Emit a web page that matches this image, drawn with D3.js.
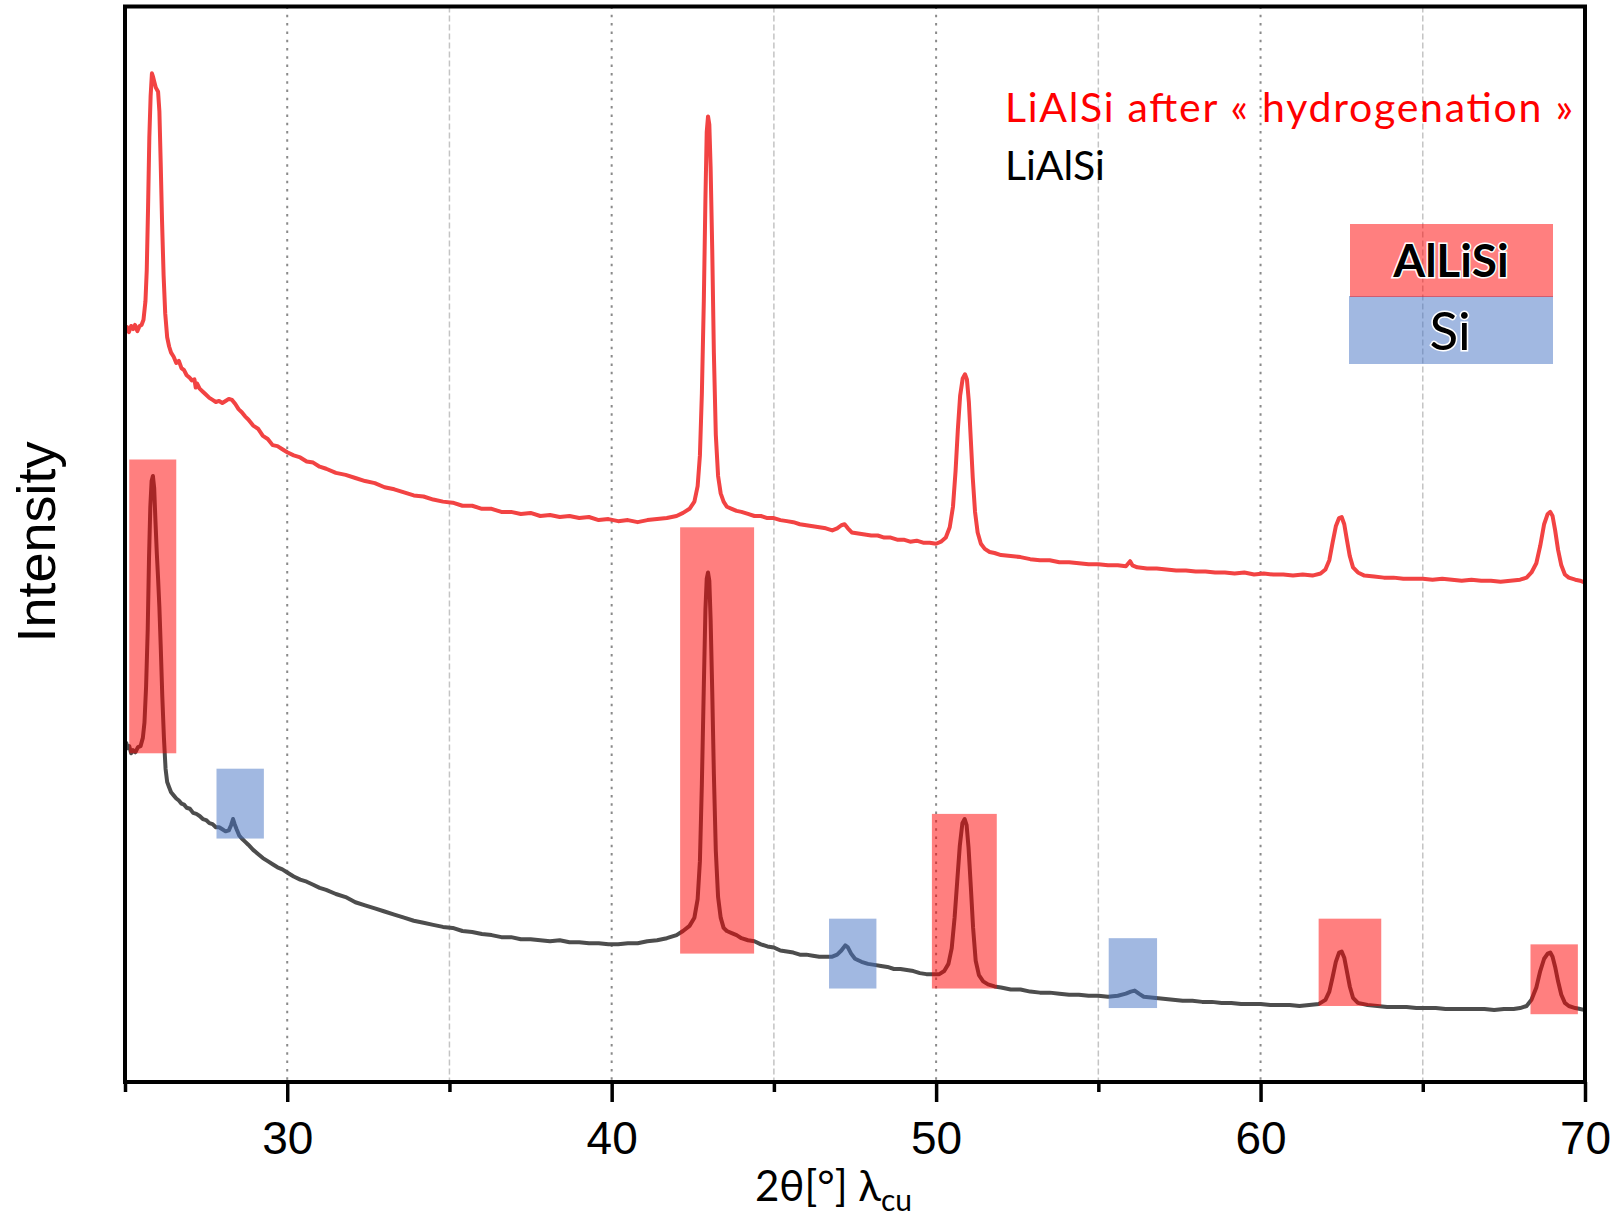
<!DOCTYPE html>
<html><head><meta charset="utf-8">
<script src="https://cdn.jsdelivr.net/npm/d3@7"></script>
<style>body{margin:0;background:#fff}</style>
</head><body><svg id="c" width="1611" height="1221"></svg>
<script>
const majorTicks = [30, 40, 50, 60, 70];
const minorTicks = [25, 35, 45, 55, 65];
const seriesLabels = ["LiAlSi after « hydrogenation »", "LiAlSi"];
const legendPhases = ["AlLiSi", "Si"];

// LiAlSi after hydrogenation: [2θ, intensity (a.u.)]
const afterH = [[25.00,732],[25.06,735],[25.12,730],[25.19,736],[25.25,733],[25.31,737],[25.38,731],[25.45,736],[25.51,737],[25.57,742],[25.63,760],[25.67,790],[25.71,850],[25.75,920],[25.79,960],[25.83,982],[25.86,979],[25.90,974],[25.95,968],[26.02,964],[26.06,945],[26.10,895],[26.14,840],[26.19,785],[26.24,748],[26.30,725],[26.36,716],[26.42,710],[26.50,706],[26.58,700],[26.66,702],[26.74,695],[26.82,693],[26.90,688],[26.98,686],[27.06,683],[27.14,684],[27.18,676],[27.22,680],[27.30,675],[27.40,672],[27.50,669],[27.60,666],[27.70,664],[27.80,662],[27.90,663],[28.00,661],[28.10,663],[28.20,665],[28.30,664],[28.40,660],[28.50,655],[28.60,652],[28.70,648],[28.80,645],[28.95,639],[29.10,636],[29.25,629],[29.40,626],[29.55,620],[29.70,619],[29.85,616],[30.0,613],[30.2,610],[30.4,608],[30.6,604],[30.8,603],[31.0,599],[31.2,597],[31.5,593],[31.8,591],[32.1,588],[32.4,585],[32.7,583],[33.0,579],[33.3,577],[33.6,574],[33.9,571],[34.2,570],[34.5,567],[34.8,565],[35.1,564],[35.4,561],[35.7,561],[36.0,558],[36.3,558],[36.6,555],[36.9,555],[37.2,553],[37.5,554],[37.8,551],[38.1,552],[38.4,550],[38.7,551],[39.0,549],[39.3,550],[39.6,547],[39.9,548],[40.2,546],[40.5,547],[40.8,545],[41.1,547],[41.4,548],[41.7,549],[42.0,551],[42.2,554],[42.4,558],[42.55,565],[42.65,580],[42.72,610],[42.78,670],[42.84,760],[42.89,860],[42.93,925],[42.97,940],[43.01,932],[43.05,890],[43.10,810],[43.15,710],[43.21,630],[43.28,590],[43.36,573],[43.45,565],[43.55,560],[43.7,558],[43.85,556],[44.0,555],[44.2,553],[44.4,551],[44.6,551],[44.8,549],[45.0,549],[45.2,547],[45.4,546],[45.6,545],[45.8,543],[46.0,542],[46.2,541],[46.4,540],[46.6,539],[46.8,537],[46.95,539],[47.08,542],[47.18,543],[47.28,539],[47.40,535],[47.6,534],[47.8,533],[48.0,532],[48.2,532],[48.4,530],[48.6,530],[48.8,528],[49.0,528],[49.2,526],[49.4,527],[49.6,525],[49.8,525],[50.0,524],[50.15,526],[50.3,530],[50.42,540],[50.52,560],[50.60,595],[50.67,635],[50.74,668],[50.82,685],[50.89,689],[50.95,684],[51.01,662],[51.07,625],[51.13,588],[51.20,555],[51.28,535],[51.38,524],[51.5,519],[51.65,516],[51.8,515],[52.0,513],[52.3,512],[52.6,511],[52.9,509],[53.2,508],[53.5,508],[53.8,506],[54.1,506],[54.4,505],[54.7,504],[55.0,504],[55.3,503],[55.6,503],[55.85,502],[55.98,507],[56.05,503],[56.2,501],[56.5,500],[56.8,500],[57.1,499],[57.4,498],[57.7,498],[58.0,497],[58.3,497],[58.6,496],[58.9,496],[59.2,495],[59.5,496],[59.8,494],[60.1,495],[60.4,494],[60.7,494],[61.0,493],[61.3,494],[61.6,493],[61.85,495],[62.0,499],[62.12,508],[62.22,525],[62.32,541],[62.42,549],[62.50,550],[62.58,543],[62.66,528],[62.75,512],[62.85,501],[63.0,496],[63.2,493],[63.5,492],[63.8,491],[64.1,491],[64.4,490],[64.7,490],[65.0,490],[65.3,489],[65.6,490],[65.9,489],[66.2,488],[66.5,489],[66.8,488],[67.1,488],[67.4,487],[67.7,488],[68.0,489],[68.2,491],[68.35,496],[68.5,505],[68.62,522],[68.74,543],[68.85,553],[68.93,555],[69.0,551],[69.08,537],[69.17,518],[69.27,503],[69.38,494],[69.5,491],[69.7,489],[69.85,488],[70.0,486]];

// LiAlSi (pristine): [2θ, intensity (a.u.)]
const pristine = [[25.00,322],[25.04,330],[25.08,325],[25.13,327],[25.19,320],[25.25,323],[25.32,321],[25.40,326],[25.48,327],[25.55,335],[25.60,350],[25.65,385],[25.70,440],[25.74,510],[25.78,560],[25.82,585],[25.86,590],[25.90,578],[25.94,545],[25.98,515],[26.02,490],[26.06,462],[26.10,425],[26.15,375],[26.20,335],[26.25,305],[26.30,292],[26.36,287],[26.42,282],[26.50,279],[26.58,276],[26.66,274],[26.74,271],[26.82,270],[26.90,267],[27.0,266],[27.1,262],[27.2,261],[27.3,259],[27.4,256],[27.5,255],[27.6,252],[27.7,251],[27.8,248],[27.9,248],[28.0,246],[28.1,244],[28.2,245],[28.27,250],[28.33,256],[28.38,251],[28.44,246],[28.52,240],[28.6,237],[28.7,234],[28.8,231],[28.95,226],[29.1,222],[29.25,218],[29.4,215],[29.55,212],[29.7,209],[29.85,207],[30.0,204],[30.2,200],[30.4,197],[30.6,195],[30.8,192],[31.0,189],[31.2,187],[31.5,183],[31.8,180],[32.1,175],[32.4,172],[32.7,169],[33.0,166],[33.3,163],[33.6,160],[33.9,157],[34.2,155],[34.5,153],[34.8,151],[35.1,150],[35.4,147],[35.7,146],[36.0,144],[36.3,143],[36.6,141],[36.9,141],[37.2,139],[37.5,139],[37.8,138],[38.1,137],[38.4,138],[38.7,136],[39.0,136],[39.3,135],[39.6,135],[39.9,134],[40.2,134],[40.5,135],[40.8,135],[41.1,137],[41.4,138],[41.7,140],[42.0,143],[42.2,147],[42.4,152],[42.55,160],[42.65,178],[42.72,215],[42.78,290],[42.84,385],[42.89,460],[42.93,490],[42.97,496],[43.01,488],[43.05,450],[43.10,380],[43.15,300],[43.21,225],[43.28,180],[43.36,160],[43.45,150],[43.55,147],[43.7,145],[43.85,143],[44.0,140],[44.2,138],[44.4,137],[44.6,134],[44.8,132],[45.0,131],[45.2,128],[45.4,127],[45.6,126],[45.8,124],[46.0,124],[46.2,123],[46.4,122],[46.6,122],[46.8,122],[46.95,124],[47.08,128],[47.2,133],[47.28,131],[47.38,125],[47.5,120],[47.7,117],[47.9,115],[48.1,114],[48.3,113],[48.5,112],[48.7,110],[48.9,110],[49.1,109],[49.3,108],[49.5,106],[49.7,105],[49.9,105],[50.1,105],[50.25,108],[50.38,115],[50.48,130],[50.57,160],[50.65,195],[50.73,230],[50.81,252],[50.88,256],[50.94,250],[51.0,228],[51.07,190],[51.14,150],[51.22,118],[51.32,104],[51.45,98],[51.6,95],[51.8,93],[52.0,92],[52.3,90],[52.6,90],[52.9,88],[53.2,87],[53.5,87],[53.8,86],[54.1,85],[54.4,85],[54.7,84],[55.0,84],[55.3,83],[55.6,84],[55.85,86],[56.0,88],[56.12,89],[56.25,86],[56.4,83],[56.7,82],[57.0,81],[57.3,80],[57.6,79],[57.9,79],[58.2,78],[58.5,78],[58.8,77],[59.1,77],[59.4,76],[59.7,76],[60.0,76],[60.3,75],[60.6,75],[60.9,75],[61.2,74],[61.5,75],[61.8,76],[62.0,80],[62.12,88],[62.22,102],[62.32,117],[62.42,126],[62.5,127],[62.58,121],[62.66,108],[62.75,93],[62.85,82],[63.0,77],[63.3,75],[63.6,74],[63.9,73],[64.2,73],[64.5,73],[64.8,72],[65.1,72],[65.4,72],[65.7,71],[66.0,71],[66.3,71],[66.6,71],[66.9,71],[67.2,70],[67.5,71],[67.8,71],[68.0,72],[68.2,74],[68.35,80],[68.5,92],[68.62,108],[68.74,120],[68.85,125],[68.93,126],[69.0,122],[69.08,112],[69.17,98],[69.27,85],[69.38,77],[69.5,74],[69.7,72],[69.85,71],[70.0,70]];

// phase identification boxes
const boxPhase = ["AlLiSi","Si","AlLiSi","Si","AlLiSi","Si","AlLiSi","AlLiSi"];
const boxX0 = [25.13, 27.82, 42.11, 46.70, 49.87, 55.32, 61.79, 68.32];
const boxX1 = [26.58, 29.28, 44.39, 48.16, 51.87, 56.81, 63.72, 69.78];
const boxY0 = [320, 237, 125, 91, 91, 72, 74, 66];
const boxY1 = [606, 305, 540, 159, 261, 140, 159, 134];

const phaseColor = {"AlLiSi": "rgba(255,0,0,0.5)", "Si": "rgba(68,114,196,0.5)"};

const svg = d3.select("#c");
const L = 125, R = 1585, T = 6.5, B = 1082;
const x = d3.scaleLinear().domain([25, 70]).range([L, R]);
const y = d3.scaleLinear().domain([0, 1047]).range([B, T]);

// grid
svg.append("g").selectAll("line").data(majorTicks.filter(d => d < 70)).join("line")
  .attr("x1", d => x(d)).attr("x2", d => x(d)).attr("y1", T).attr("y2", B)
  .attr("stroke", "#8a8a8a").attr("stroke-width", 2).attr("stroke-dasharray", "2.5,5.8");
svg.append("g").selectAll("line").data(minorTicks.filter(d => d > 25)).join("line")
  .attr("x1", d => x(d)).attr("x2", d => x(d)).attr("y1", T).attr("y2", B)
  .attr("stroke", "#c4c4c4").attr("stroke-width", 1.5).attr("stroke-dasharray", "6,3");

// lines
const line = d3.line().x(d => x(d[0])).y(d => y(d[1]));
svg.append("path").datum(afterH).attr("d", line).attr("fill", "none")
  .attr("stroke", "#f24343").attr("stroke-width", 4).attr("stroke-linejoin", "round");
svg.append("path").datum(pristine).attr("d", line).attr("fill", "none")
  .attr("stroke", "#4d4d4d").attr("stroke-width", 4).attr("stroke-linejoin", "round");

// phase boxes
const boxes = boxPhase.map((p, i) => ({p, x0: boxX0[i], x1: boxX1[i], y0: boxY0[i], y1: boxY1[i]}));
svg.append("g").selectAll("rect").data(boxes).join("rect")
  .attr("x", d => x(d.x0)).attr("width", d => x(d.x1) - x(d.x0))
  .attr("y", d => y(d.y1)).attr("height", d => y(d.y0) - y(d.y1))
  .attr("fill", d => phaseColor[d.p]);

// axis ticks
const axMajor = d3.axisBottom(x).tickValues(majorTicks).tickSize(20).tickPadding(19).tickFormat(d3.format("d"));
const gMaj = svg.append("g").attr("transform", `translate(0,${B})`).call(axMajor);
gMaj.select(".domain").remove();
gMaj.selectAll("line").attr("stroke", "#000").attr("stroke-width", 3.5);
gMaj.selectAll("text").attr("font-family", "'Liberation Sans', Arial, sans-serif").attr("font-size", 46).attr("fill", "#000");
const axMinor = d3.axisBottom(x).tickValues(minorTicks).tickSize(10).tickFormat("");
const gMin = svg.append("g").attr("transform", `translate(0,${B})`).call(axMinor);
gMin.select(".domain").remove();
gMin.selectAll("line").attr("stroke", "#000").attr("stroke-width", 3.5);

// frame
svg.append("rect").attr("x", L).attr("y", T).attr("width", R - L).attr("height", B - T)
  .attr("fill", "none").attr("stroke", "#000").attr("stroke-width", 4);

// axis titles
svg.append("text").attr("transform", "translate(55,542) rotate(-90)").attr("text-anchor", "middle")
  .attr("font-family", "'Liberation Sans', Arial, sans-serif").attr("font-size", 54).attr("fill", "#000").text("Intensity");
const xt = svg.append("text").attr("x", 755).attr("y", 1201)
  .attr("font-family", "Lato, 'Open Sans', sans-serif").attr("font-size", 42).attr("fill", "#000");
xt.append("tspan").text("2θ[°] λ");
xt.append("tspan").attr("font-size", 30).attr("dy", 10).text("cu");

// series labels
svg.append("text").attr("x", 1005).attr("y", 122).attr("font-family", "Lato, sans-serif").attr("font-size", 41)
  .attr("textLength", 568).attr("lengthAdjust", "spacing")
  .attr("fill", "#ff0000").text(seriesLabels[0]);
svg.append("text").attr("x", 1005).attr("y", 180).attr("font-family", "Lato, sans-serif").attr("font-size", 41)
  .attr("fill", "#000").text(seriesLabels[1]);

// phase legend
svg.append("rect").attr("x", 1349).attr("y", 296).attr("width", 204).attr("height", 68).attr("fill", phaseColor["Si"]);
svg.append("rect").attr("x", 1350).attr("y", 224).attr("width", 203).attr("height", 73).attr("fill", phaseColor["AlLiSi"]);
svg.append("text").attr("x", 1451).attr("y", 277).attr("text-anchor", "middle")
  .attr("font-family", "Lato, sans-serif").attr("font-weight", "bold").attr("font-size", 46)
  .attr("fill", "#000").attr("stroke", "#fff").attr("stroke-width", 3).attr("paint-order", "stroke")
  .text(legendPhases[0]);
svg.append("text").attr("x", 1450).attr("y", 350).attr("text-anchor", "middle")
  .attr("font-family", "Lato, sans-serif").attr("font-size", 53)
  .attr("fill", "#000").attr("stroke", "#fff").attr("stroke-width", 3).attr("paint-order", "stroke")
  .text(legendPhases[1]);
</script></body></html>
